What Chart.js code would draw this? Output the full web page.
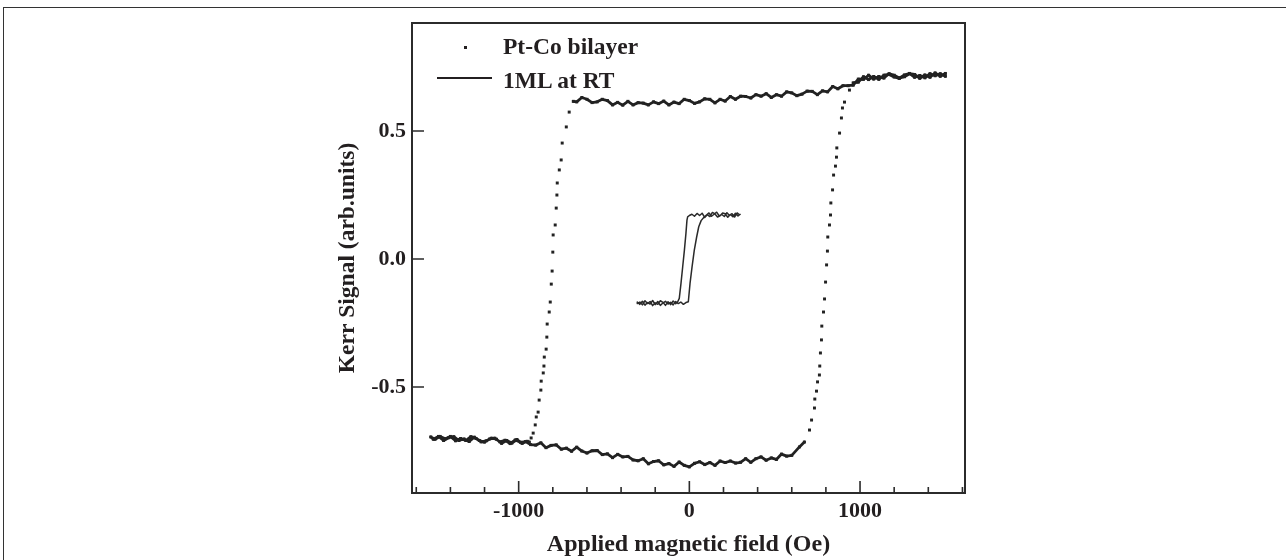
<!DOCTYPE html>
<html>
<head>
<meta charset="utf-8">
<script src="https://cdn.jsdelivr.net/npm/chart.js@4.4.1/dist/chart.umd.min.js"></script>
<style>
html,body{margin:0;padding:0;background:#fff;}
#wrap{position:relative;width:1286px;height:560px;overflow:hidden;background:#fff;}
#frame{position:absolute;left:3px;top:7px;width:1400px;height:700px;border-left:1.5px solid #333;border-top:1.5px solid #333;}
canvas{position:absolute;left:0;top:0;}
.leg{position:absolute;font-family:"Liberation Serif","Times New Roman",serif;font-weight:bold;font-size:23.5px;line-height:1;color:#231f20;white-space:nowrap;}
</style>
</head>
<body>
<div id="wrap">
  <div id="frame"></div>
  <canvas id="c" width="1286" height="560"></canvas>
  <div class="leg" style="left:503px;top:35px">Pt-Co bilayer</div>
  <div class="leg" style="left:503px;top:69px">1ML at RT</div>
  <div style="position:absolute;left:463.5px;top:45.5px;width:3px;height:3px;background:#231f20"></div>
  <div style="position:absolute;left:437px;top:77.2px;width:55px;height:1.6px;background:#231f20"></div>
</div>
<script>
// ---------- Pt-Co bilayer: descending branch (+1500 -> -1515 Oe) ----------
const bilayerFieldDown = [1500,1470,1440,1410,1380,1350,1320,1290,1260,1230,1200,1170,1140,1110,1080,1050,1020,990,960,930,
  900,870,840,810,780,750,720,690,660,630,600,570,540,510,480,450,420,390,360,330,
  300,270,240,210,180,150,120,90,60,30,0,-30,-60,-90,-120,-150,-180,-210,-240,-270,
  -300,-330,-360,-390,-420,-450,-480,-510,-540,-570,-600,-630,-660,-680,
  -704,-721,-745,-751,-762,-774,-776,-780,-786,-798,-800,-804,-809,-815,-821,-833,-835,-839,-850,-852,
  -856,-868,-870,-880,-886,-897,-903,-915,-927,-938,
  -950,-980,-1010,-1040,-1070,-1100,-1130,-1160,-1190,-1220,-1250,-1280,-1310,-1340,-1370,-1400,-1430,-1460,-1490,-1515];
const bilayerKerrDown = [0.725,0.714,0.727,0.710,0.719,0.706,0.721,0.724,0.712,0.707,0.718,0.724,0.707,0.713,0.703,0.718,0.702,0.703,0.679,0.677,
  0.677,0.665,0.674,0.653,0.657,0.642,0.655,0.656,0.644,0.638,0.649,0.653,0.636,0.642,0.631,0.646,0.636,0.642,0.629,0.635,
  0.636,0.624,0.635,0.617,0.624,0.610,0.624,0.626,0.614,0.608,0.619,0.624,0.607,0.613,0.602,0.617,0.607,0.614,0.602,0.609,
  0.611,0.602,0.616,0.601,0.612,0.602,0.619,0.624,0.614,0.611,0.624,0.631,0.614,0.616,
  0.574,0.516,0.453,0.387,0.348,0.297,0.250,0.199,0.133,0.094,0.027,-0.047,-0.098,-0.168,-0.207,-0.254,-0.305,-0.352,-0.383,-0.418,
  -0.445,-0.477,-0.512,-0.551,-0.598,-0.617,-0.648,-0.680,-0.699,-0.715,
  -0.712,-0.720,-0.705,-0.719,-0.709,-0.720,-0.704,-0.700,-0.710,-0.714,-0.701,-0.694,-0.709,-0.701,-0.710,-0.693,-0.702,-0.693,-0.704,-0.695];

// ---------- Pt-Co bilayer: ascending branch (-1500 -> +1500 Oe) ----------
const bilayerFieldUp = [-1500,-1470,-1440,-1410,-1380,-1350,-1320,-1290,-1260,-1230,-1200,-1170,-1140,-1110,-1080,-1050,-1020,-990,-960,-930,
  -900,-870,-840,-810,-780,-750,-720,-690,-660,-630,-600,-570,-540,-510,-480,-450,-420,-390,-360,-330,
  -300,-270,-240,-210,-180,-150,-120,-90,-60,-30,0,30,60,90,120,150,180,210,240,270,
  300,330,360,390,420,450,480,510,540,570,600,
  645,674,704,716,733,735,745,751,762,764,768,774,776,786,792,798,804,809,811,821,
  827,829,839,845,856,862,864,880,891,897,909,938,
  960,990,1020,1050,1080,1110,1140,1170,1200,1230,1260,1290,1320,1350,1380,1410,1440,1470,1500];
const bilayerKerrUp = [-0.704,-0.693,-0.709,-0.698,-0.694,-0.709,-0.703,-0.713,-0.696,-0.709,-0.715,-0.703,-0.700,-0.714,-0.708,-0.721,-0.707,-0.716,-0.713,-0.725,
  -0.727,-0.718,-0.737,-0.728,-0.726,-0.743,-0.739,-0.751,-0.735,-0.750,-0.758,-0.749,-0.748,-0.764,-0.761,-0.776,-0.763,-0.773,-0.771,-0.785,
  -0.788,-0.780,-0.800,-0.791,-0.788,-0.804,-0.799,-0.810,-0.793,-0.806,-0.812,-0.798,-0.792,-0.803,-0.795,-0.806,-0.789,-0.795,-0.789,-0.797,
  -0.794,-0.780,-0.794,-0.780,-0.773,-0.786,-0.777,-0.783,-0.762,-0.770,-0.767,
  -0.734,-0.715,-0.668,-0.629,-0.582,-0.547,-0.516,-0.480,-0.453,-0.418,-0.367,-0.316,-0.262,-0.207,-0.156,-0.090,-0.023,0.031,0.086,0.133,
  0.172,0.219,0.270,0.328,0.363,0.398,0.434,0.492,0.551,0.590,0.613,0.660,
  0.688,0.691,0.712,0.701,0.713,0.702,0.718,0.721,0.711,0.706,0.719,0.725,0.710,0.717,0.708,0.724,0.716,0.724,0.714];

// ---------- 1ML at RT: descending then ascending ----------
const mlFieldDown = [300,285,270,255,240,225,210,195,180,165,150,135,120,105,90,75,60,45,30,15,0,-10,
  -14,-20,-29,-39,-49,-59,-69,
  -80,-95,-110,-125,-140,-155,-170,-185,-200,-215,-230,-245,-260,-275,-290,-305];
const mlKerrDown = [0.176,0.168,0.179,0.165,0.174,0.163,0.177,0.180,0.169,0.164,0.176,0.182,0.166,0.173,0.162,0.179,0.170,0.178,0.167,0.175,0.170,0.165,
  0.152,0.100,0.035,-0.030,-0.095,-0.154,-0.168,
  -0.175,-0.164,-0.178,-0.167,-0.181,-0.169,-0.163,-0.177,-0.171,-0.182,-0.166,-0.174,-0.163,-0.179,-0.168,-0.174];
const mlFieldUp = [-305,-290,-275,-260,-245,-230,-215,-200,-185,-170,-155,-140,-125,-110,-95,-80,-65,-50,-35,-20,-6,
  4,16,29,43,55,69,88,
  100,115,130,145,160,175,190,205,220,235,250,265,280,295];
const mlKerrUp = [-0.168,-0.177,-0.165,-0.180,-0.170,-0.176,-0.162,-0.178,-0.166,-0.181,-0.172,-0.165,-0.176,-0.169,-0.179,-0.166,-0.174,-0.168,-0.177,-0.170,-0.167,
  -0.095,-0.030,0.035,0.087,0.126,0.150,0.165,
  0.172,0.180,0.167,0.175,0.183,0.168,0.174,0.166,0.181,0.170,0.177,0.164,0.180,0.172];

// ---------- Axes ----------
const xMajorTicks = [-1000, 0, 1000];
const xMinorTicks = [-1600,-1400,-1200,-800,-600,-400,-200,200,400,600,800,1200,1400,1600];
const yMajorTicks = [-0.5, 0, 0.5];
const xTitle = 'Applied magnetic field (Oe)';
const yTitle = 'Kerr Signal (arb.units)';

const pairs = (xs, ys) => xs.map((v, i) => ({x: v, y: ys[i]}));
const bilayerPoints = pairs(bilayerFieldDown, bilayerKerrDown).concat(pairs(bilayerFieldUp, bilayerKerrUp));
const mlPoints = pairs(mlFieldDown, mlKerrDown).concat(pairs(mlFieldUp, mlKerrUp));

const INK = '#231f20';
const FONT = '"Liberation Serif", "Times New Roman", serif';

const frameTicks = {
  id: 'frameTicks',
  afterDatasetsDraw(chart) {
    const {ctx, chartArea: a, scales: {x, y}} = chart;
    ctx.save();
    ctx.strokeStyle = '#2b2b2b';
    ctx.lineWidth = 2;
    ctx.strokeRect(a.left, a.top, a.right - a.left, a.bottom - a.top);
    ctx.lineWidth = 1.6;
    ctx.beginPath();
    xMajorTicks.forEach(v => { const p = x.getPixelForValue(v); ctx.moveTo(p, a.bottom); ctx.lineTo(p, a.bottom - 12); });
    xMinorTicks.forEach(v => { const p = x.getPixelForValue(v); ctx.moveTo(p, a.bottom); ctx.lineTo(p, a.bottom - 6); });
    yMajorTicks.forEach(v => { const p = y.getPixelForValue(v); ctx.moveTo(a.left, p); ctx.lineTo(a.left + 12, p); });
    ctx.stroke();
    ctx.restore();
  }
};

new Chart(document.getElementById('c'), {
  type: 'scatter',
  data: {
    datasets: [
      {
        label: 'Pt-Co bilayer',
        data: bilayerPoints,
        showLine: true,
        borderColor: '#222',
        borderWidth: 2.8,
        borderJoinStyle: 'round',
        borderCapStyle: 'round',
        backgroundColor: '#222',
        pointStyle: 'rect',
        pointRadius: 2.1,
        pointBorderWidth: 0,
        segment: {
          borderColor: c => (Math.abs(c.p1.y - c.p0.y) > Math.abs(c.p1.x - c.p0.x) + 1.5 ? 'rgba(0,0,0,0)' : undefined)
        }
      },
      {
        label: '1ML at RT',
        data: mlPoints,
        showLine: true,
        borderColor: '#2a2a2a',
        borderWidth: 1.5,
        borderJoinStyle: 'round',
        pointRadius: 0
      }
    ]
  },
  options: {
    responsive: false,
    animation: false,
    devicePixelRatio: 1,
    layout: {padding: {left: 0, top: 23, right: 321, bottom: 0}},
    plugins: {legend: {display: false}, tooltip: {enabled: false}},
    scales: {
      x: {
        type: 'linear',
        min: -1625, max: 1615,
        grid: {display: false, drawTicks: false},
        border: {display: false},
        afterFit: s => { s.height = 67; },
        afterBuildTicks: s => { s.ticks = xMajorTicks.map(v => ({value: v})); },
        ticks: {
          padding: 5,
          color: INK,
          font: {family: FONT, size: 22, weight: 'bold'},
          callback: v => String(v)
        },
        title: {
          display: true, text: xTitle, color: INK,
          font: {family: FONT, size: 24, weight: 'bold', lineHeight: 1},
          padding: {top: 0, bottom: 3}
        }
      },
      y: {
        type: 'linear',
        min: -0.914, max: 0.922,
        grid: {display: false, drawTicks: false},
        border: {display: false},
        afterFit: s => { s.width = 412; },
        afterBuildTicks: s => { s.ticks = yMajorTicks.map(v => ({value: v})); },
        ticks: {
          padding: 6,
          color: INK,
          font: {family: FONT, size: 22, weight: 'bold'},
          callback: v => Number(v).toFixed(1)
        },
        title: {
          display: true, text: yTitle, color: INK,
          font: {family: FONT, size: 23.5, weight: 'bold', lineHeight: 1},
          padding: {top: 336, bottom: 0}
        }
      }
    }
  },
  plugins: [frameTicks]
});
</script>
</body>
</html>
